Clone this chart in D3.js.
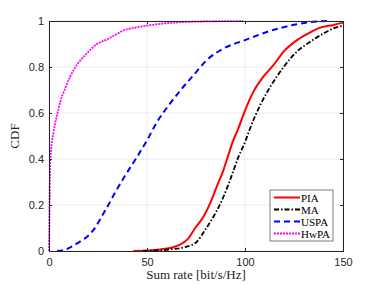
<!DOCTYPE html>
<html>
<head>
<meta charset="utf-8">
<script src="https://cdn.jsdelivr.net/npm/d3@7"></script>
<style>
  body { margin: 0; background: #fff; }
</style>
</head>
<body>
<div id="chart"></div>
<script>
// CDF of sum rate for four power allocation schemes

const xTicks = [0, 50, 100, 150];
const yTicks = [0, 0.2, 0.4, 0.6, 0.8, 1];

const piaX = [43, 56.6, 63.4, 68.5, 71.1, 74.5, 78.8, 82.2, 85.6, 89, 91.5, 94.1, 96, 100.1, 104.3, 109.4, 114.6, 119.7, 126.5, 133.3, 138.4, 145.2, 150];
const piaY = [0, 0.007, 0.016, 0.036, 0.055, 0.099, 0.149, 0.207, 0.28, 0.352, 0.417, 0.483, 0.52, 0.613, 0.693, 0.758, 0.809, 0.867, 0.917, 0.951, 0.971, 0.983, 0.993];

const maX = [48, 61.7, 70.3, 75.4, 79.6, 83.9, 88.2, 92.4, 96.7, 100.1, 102, 107.8, 112.9, 119.7, 126.5, 133.3, 140.1, 146.1, 150];
const maY = [0, 0.007, 0.019, 0.04, 0.091, 0.149, 0.22, 0.309, 0.41, 0.475, 0.52, 0.635, 0.714, 0.8, 0.867, 0.91, 0.946, 0.971, 0.98];

const uspaX = [4.1, 7.5, 14.3, 22, 28.8, 34, 39, 45, 50.1, 55.2, 61.2, 67.2, 73.1, 80.5, 89, 100, 112.9, 126.5, 138.4, 143];
const uspaY = [0, 0.004, 0.033, 0.084, 0.178, 0.258, 0.33, 0.41, 0.483, 0.562, 0.635, 0.7, 0.758, 0.83, 0.88, 0.917, 0.957, 0.986, 0.999, 1];

const hwpaX = [0, 0.3, 0.7, 2.4, 4.1, 5.8, 8.4, 10.9, 14.3, 19.4, 24.5, 29.7, 34, 38.2, 43.3, 50, 74, 99];
const hwpaY = [0, 0.21, 0.4, 0.52, 0.59, 0.65, 0.71, 0.76, 0.81, 0.86, 0.9, 0.92, 0.94, 0.96, 0.97, 0.98, 0.997, 1];

const seriesNames = ["PIA", "MA", "USPA", "HwPA"];
const seriesColors = ["#ff0000", "#000000", "#0000ff", "#ff00ff"];
const seriesDash = [null, "5,2,1.5,2", "6,4", "2,1"];
const seriesWidth = [2, 1.8, 2, 1.8];

function drawChart() {
  const width = 379;
  const height = 285;
  const margin = { top: 21, right: 36, bottom: 34, left: 49 };

  const svg = d3.select("#chart")
    .append("svg")
    .attr("width", width)
    .attr("height", height);

  const x = d3.scaleLinear()
    .domain([0, 150])
    .range([margin.left, width - margin.right]);

  const y = d3.scaleLinear()
    .domain([0, 1])
    .range([height - margin.bottom, margin.top]);

  // grid
  svg.append("g")
    .selectAll("line")
    .data(xTicks)
    .join("line")
    .attr("x1", function(d) { return x(d); })
    .attr("x2", function(d) { return x(d); })
    .attr("y1", y(0))
    .attr("y2", y(1))
    .attr("stroke", "#e6e6e6")
    .attr("stroke-width", 0.8);

  svg.append("g")
    .selectAll("line")
    .data(yTicks)
    .join("line")
    .attr("x1", x(0))
    .attr("x2", x(150))
    .attr("y1", function(d) { return y(d); })
    .attr("y2", function(d) { return y(d); })
    .attr("stroke", "#e6e6e6")
    .attr("stroke-width", 0.8);

  // curves
  const allX = [piaX, maX, uspaX, hwpaX];
  const allY = [piaY, maY, uspaY, hwpaY];

  const line = d3.line()
    .curve(d3.curveMonotoneX)
    .x(function(d) { return x(d[0]); })
    .y(function(d) { return y(d[1]); });

  seriesNames.forEach(function(name, i) {
    const pts = allX[i].map(function(v, j) { return [v, allY[i][j]]; });
    svg.append("path")
      .datum(pts)
      .attr("fill", "none")
      .attr("stroke", seriesColors[i])
      .attr("stroke-width", seriesWidth[i])
      .attr("stroke-dasharray", seriesDash[i])
      .attr("d", line);
  });

  // axes
  const axisColor = "#262626";

  svg.append("g")
    .attr("transform", "translate(0," + y(0) + ")")
    .call(d3.axisBottom(x).tickValues(xTicks).tickSize(0).tickPadding(7));

  svg.append("g")
    .attr("transform", "translate(0," + y(1) + ")")
    .call(d3.axisTop(x).tickValues(xTicks).tickSize(-3).tickFormat(""));

  svg.append("g")
    .attr("transform", "translate(" + x(0) + ",0)")
    .call(d3.axisLeft(y).tickValues(yTicks).tickSize(0).tickPadding(5)
      .tickFormat(function(d) { return d === 0 || d === 1 ? d : d3.format(".1f")(d); }));

  svg.append("g")
    .attr("transform", "translate(" + x(150) + ",0)")
    .call(d3.axisRight(y).tickValues(yTicks).tickSize(-3).tickFormat(""));

  svg.append("g")
    .attr("transform", "translate(0," + y(0) + ")")
    .call(d3.axisBottom(x).tickValues(xTicks).tickSize(-3).tickFormat(""));

  svg.append("g")
    .attr("transform", "translate(" + x(0) + ",0)")
    .call(d3.axisLeft(y).tickValues(yTicks).tickSize(-3).tickFormat(""));

  svg.selectAll(".domain").attr("stroke", axisColor);
  svg.selectAll(".tick line").attr("stroke", axisColor);
  svg.selectAll(".tick text")
    .attr("fill", axisColor)
    .attr("font-family", "Liberation Sans, Arial, sans-serif")
    .attr("font-size", 11);

  // labels
  svg.append("text")
    .attr("x", (x(0) + x(150)) / 2)
    .attr("y", 279)
    .attr("text-anchor", "middle")
    .attr("font-family", "Liberation Serif, Times New Roman, serif")
    .attr("font-size", 13)
    .attr("fill", axisColor)
    .text("Sum rate [bit/s/Hz]");

  svg.append("text")
    .attr("transform", "translate(19," + ((y(0) + y(1)) / 2) + ") rotate(-90)")
    .attr("text-anchor", "middle")
    .attr("font-family", "Liberation Serif, Times New Roman, serif")
    .attr("font-size", 13)
    .attr("fill", axisColor)
    .text("CDF");

  // legend
  const legend = svg.append("g")
    .attr("transform", "translate(270,190)");

  legend.append("rect")
    .attr("width", 63)
    .attr("height", 51)
    .attr("fill", "#fff")
    .attr("stroke", "#262626")
    .attr("stroke-width", 0.6);

  seriesNames.forEach(function(name, i) {
    const ly = 7.5 + i * 12;
    legend.append("line")
      .attr("x1", 4)
      .attr("x2", 30)
      .attr("y1", ly)
      .attr("y2", ly)
      .attr("stroke", seriesColors[i])
      .attr("stroke-width", seriesWidth[i])
      .attr("stroke-dasharray", seriesDash[i]);
    legend.append("text")
      .attr("x", 31)
      .attr("y", ly + 4)
      .attr("font-family", "Liberation Serif, Times New Roman, serif")
      .attr("font-size", 11)
      .attr("fill", "#000")
      .text(name);
  });
}

if (document.readyState === "loading") {
  document.addEventListener("DOMContentLoaded", drawChart);
} else {
  drawChart();
}
</script>
</body>
</html>
